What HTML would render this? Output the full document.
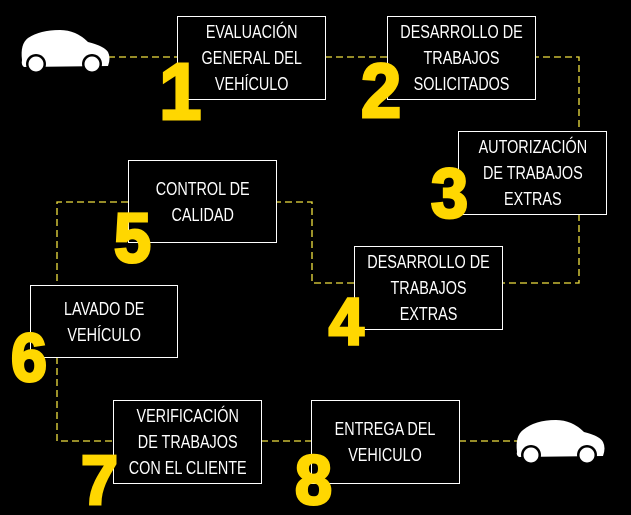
<!DOCTYPE html>
<html><head><meta charset="utf-8"><style>
html,body{margin:0;padding:0;background:#000;}
#c{position:relative;width:631px;height:515px;background:#000;overflow:hidden;font-family:"Liberation Sans Narrow","Liberation Sans",sans-serif;}
.b{position:absolute;border:1.5px solid #fff;box-sizing:border-box;color:#fff;display:flex;align-items:center;justify-content:center;text-align:center;font-size:18px;line-height:26px;background:#000;}
.b span{display:inline-block;transform:scaleX(0.8);white-space:nowrap;}
.n{position:absolute;z-index:5;color:#FFD700;-webkit-text-stroke:3px #FFD700;font-family:"Liberation Sans",sans-serif;font-weight:bold;font-size:66px;line-height:66px;transform:scaleX(0.95);}
svg{position:absolute;left:0;top:0;}
</style></head><body><div id="c">
<svg width="631" height="515">
<g fill="none" stroke="#f0e040" stroke-width="1.3" stroke-dasharray="7,4">
<path d="M108 57H178"/>
<path d="M325 57H388"/>
<path d="M532 57H579V131"/>
<path d="M579 214V283H502"/>
<path d="M354 283H312V202H276"/>
<path d="M128 202H57V285"/>
<path d="M57 357V441H113"/>
<path d="M261 441H311"/>
<path d="M459 441H520"/>
</g>
<g fill="#fff">
<path d="M22 60 Q20 44 28 38 Q40 30 60 30 Q76 30 88 42 Q104 46 108 52 Q111 58 108 66 L24 67 Q21 65 22 60Z"/>
<circle cx="36" cy="64" r="10" fill="#000"/><circle cx="36" cy="64" r="7.5"/>
<circle cx="92" cy="64" r="10" fill="#000"/><circle cx="92" cy="64" r="7.5"/>
<path d="M517 452 Q515 436 523 430 Q535 420 556 420 Q572 420 584 432 Q600 436 603 442 Q606 448 603 456 L519 457 Q516 455 517 452Z"/>
<circle cx="531" cy="455" r="10" fill="#000"/><circle cx="531" cy="455" r="7.5"/>
<circle cx="587" cy="455" r="10" fill="#000"/><circle cx="587" cy="455" r="7.5"/>
</g>
</svg>
<div class="b" style="left:177px;top:16px;width:149px;height:84px"><span>EVALUACIÓN<br>GENERAL DEL<br>VEHÍCULO</span></div>
<div class="b" style="left:387px;top:16px;width:149px;height:84px"><span>DESARROLLO DE<br>TRABAJOS<br>SOLICITADOS</span></div>
<div class="b" style="left:458px;top:131px;width:149px;height:84px"><span>AUTORIZACIÓN<br>DE TRABAJOS<br>EXTRAS</span></div>
<div class="b" style="left:128px;top:160px;width:149px;height:83px"><span>CONTROL DE<br>CALIDAD</span></div>
<div class="b" style="left:354px;top:246px;width:149px;height:84px"><span>DESARROLLO DE<br>TRABAJOS<br>EXTRAS</span></div>
<div class="b" style="left:30px;top:285px;width:148px;height:73px"><span>LAVADO DE<br>VEHÍCULO</span></div>
<div class="b" style="left:113px;top:400px;width:149px;height:84px"><span>VERIFICACIÓN<br>DE TRABAJOS<br>CON EL CLIENTE</span></div>
<div class="b" style="left:311px;top:400px;width:149px;height:84px"><span>ENTREGA DEL<br>VEHICULO</span></div>
<div class="n" style="left:158px;top:52px;font-size:80px;line-height:80px">1</div>
<div class="n" style="left:360px;top:54px;font-size:76px;line-height:76px">2</div>
<div class="n" style="left:430px;top:158px;font-size:70px;line-height:70px">3</div>
<div class="n" style="left:113px;top:203px;font-size:70px;line-height:70px">5</div>
<div class="n" style="left:328px;top:288px;font-size:66px">4</div>
<div class="n" style="left:10px;top:324px;font-size:68px;line-height:68px">6</div>
<div class="n" style="left:80px;top:445px;font-size:70px;line-height:70px">7</div>
<div class="n" style="left:294px;top:445px;font-size:70px;line-height:70px">8</div>
</div></body></html>
